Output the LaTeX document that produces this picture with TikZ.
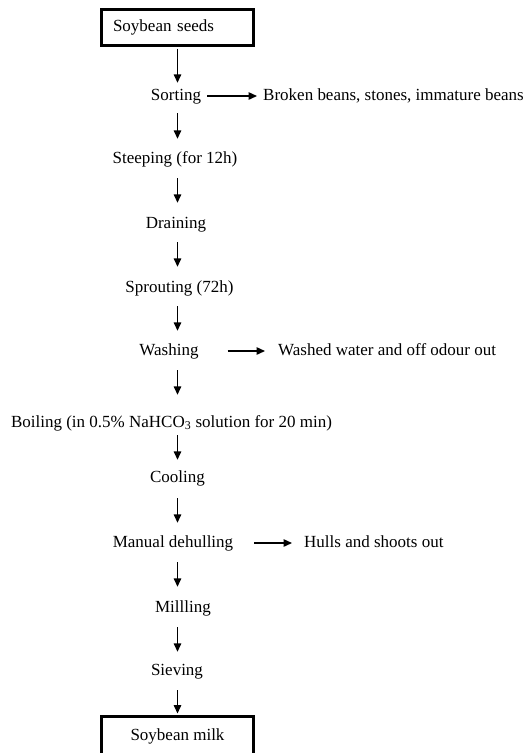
\documentclass[tikz,border=0pt]{standalone}
\usepackage{fontspec}
\setmainfont{Liberation Serif}
\usetikzlibrary{arrows.meta}

\begin{document}
\begin{tikzpicture}[x=1pt, y=-1pt,
    every node/.style={font=\fontsize{17}{20}\selectfont},
    stage/.style={inner sep=0pt, text height=12pt, text depth=4pt, anchor=base},
    waste/.style={stage, anchor=base west},
    endbox/.style={draw, line width=3pt, minimum width=152pt, inner sep=0pt, text height=12pt, text depth=4pt},
    flow/.style={-{Triangle[length=8.5pt,width=7.5pt]}, line width=1.4pt}]
    \useasboundingbox (0,0) rectangle (524,753);
    % Draw the raw material and the product boxes.
    \node[endbox, minimum height=36pt, text width=129pt, align=left] (seeds) at (177.5,27.5) {Soybean seeds};
    \node[endbox, minimum height=40pt, text depth=5pt] (milk) at (177.5,736.5) {Soybean milk};
    % Draw the processing steps.
    \node[stage] (sort)   at (176,100)   {Sorting};
    \node[stage] (steep)  at (175,163)   {Steeping (for 12h)};
    \node[stage] (drain)  at (176,228)   {Draining};
    \node[stage] (sprout) at (179.5,292) {Sprouting (72h)};
    \node[stage] (wash)   at (169,355)   {Washing};
    \node[stage] (boil)   at (171.5,427) {Boiling (in 0.5\% NaHCO\textsubscript{3} solution for 20 min)};
    \node[stage] (cool)   at (177.5,482) {Cooling};
    \node[stage] (dehull) at (173,547)   {Manual dehulling};
    \node[stage] (mill)   at (183,612)   {Millling};
    \node[stage] (sieve)  at (177,675)   {Sieving};
    % Draw the removed parts.
    \node[waste] (broken) at (263,100) {Broken beans, stones, immature beans};
    \node[waste] (washed) at (278,355) {Washed water and off odour out};
    \node[waste] (hulls)  at (304,547) {Hulls and shoots out};
    % Draw the flow arrows down the column.
    \foreach \a/\b/\s/\t in {seeds/sort/1.5/5, sort/steep/9/12, steep/drain/11/13,
        drain/sprout/10/13, sprout/wash/10/12, wash/boil/11/20, boil/cool/4/10,
        cool/dehull/12/12, dehull/mill/11/13, mill/sieve/11/11, sieve/milk/11/1.5}
      \draw[flow, shorten <=\s pt, shorten >=\t pt] (\a.south -| seeds.south) -- (\b.north -| seeds.south);
    % Draw the side arrows.
    \draw[flow, shorten <=6pt, shorten >=6pt] (sort.east) -- (sort.east -| broken.west);
    \draw[flow, shorten <=29pt, shorten >=13pt] (wash.east) -- (wash.east -| washed.west);
    \draw[flow, shorten <=21pt, shorten >=12pt] (dehull.east) -- (dehull.east -| hulls.west);
\end{tikzpicture}
\end{document}
